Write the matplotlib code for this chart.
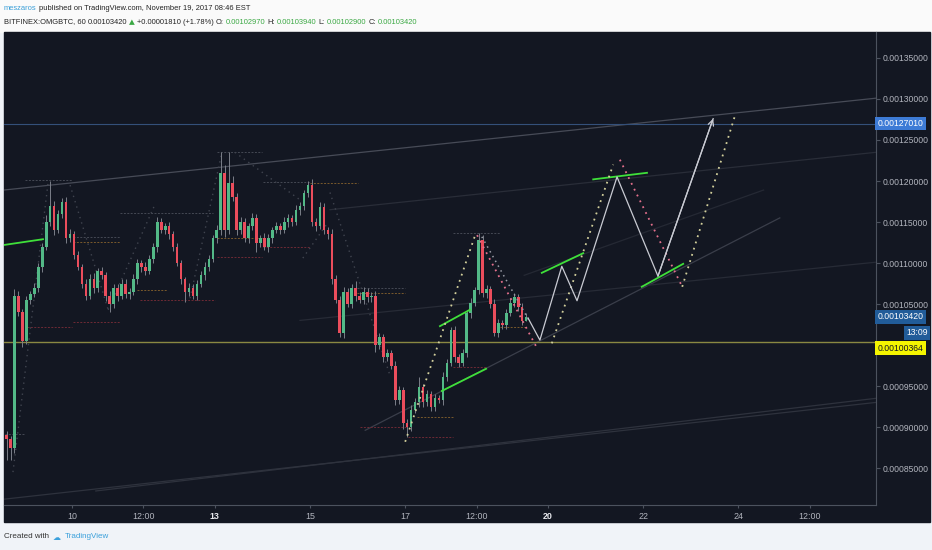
import matplotlib
matplotlib.use('Agg')
import matplotlib.pyplot as plt
from matplotlib.patches import Rectangle

W, H = 932, 550
BG = '#131722'
plt.rcParams['font.family'] = ['Liberation Sans', 'DejaVu Sans']

# 2-hour candles from Nov 8 14:00, prices in 1e-6 BTC
start_day = 8 + 14 / 24
bar_days = 1 / 12
first_open = 890
closes = [
    885, 874, 1060, 1040, 1005, 1055, 1062, 1070, 1095, 1120, 1150, 1170,
    1140, 1160, 1175, 1130, 1135, 1110, 1095, 1075, 1060, 1080, 1070, 1090,
    1085, 1060, 1050, 1070, 1060, 1075, 1062, 1065, 1080, 1100, 1095, 1090,
    1105, 1120, 1150, 1140, 1145, 1135, 1120, 1100, 1080, 1065, 1070, 1060,
    1075, 1085, 1095, 1105, 1130, 1140, 1210, 1140, 1198, 1180, 1140, 1150,
    1130, 1145, 1155, 1125, 1130, 1120, 1130, 1140, 1145, 1140, 1150, 1155,
    1150, 1165, 1170, 1185, 1195, 1150, 1145, 1168, 1140, 1135, 1080, 1055,
    1015, 1065, 1050, 1070, 1060, 1055, 1065, 1058, 1060, 1000, 1010, 985,
    990, 975, 933, 945, 905, 900, 921, 930, 949, 930, 940, 925,
    935, 933, 961, 978, 1018, 985, 978, 990, 1039, 1051, 1067, 1128,
    1063, 1068, 1050, 1015, 1027, 1025, 1039, 1051, 1058, 1046, 1029.7, 1034.2,
]
up_wick = [
    5, 4, 8, 6, 4, 5, 4, 6, 5, 4, 8, 30,
    6, 5, 4, 5, 6, 4, 5, 4, 5, 6, 8, 4,
    5, 4, 6, 5, 4, 6, 5, 4, 6, 5, 4, 6,
    5, 4, 6, 5, 4, 5, 4, 5, 4, 3, 6, 5,
    4, 5, 6, 5, 4, 6, 25, 10, 37, 8, 5, 6,
    5, 4, 6, 5, 4, 6, 5, 4, 5, 4, 6, 5,
    4, 6, 5, 4, 5, 8, 5, 6, 5, 4, 6, 5,
    5, 6, 5, 4, 8, 5, 6, 4, 5, 6, 5, 4,
    5, 4, 6, 5, 4, 5, 6, 5, 12, 4, 5, 4,
    5, 4, 6, 5, 4, 5, 4, 5, 4, 6, 4, 9,
    6, 5, 4, 6, 5, 4, 5, 6, 5, 4, 5, 5.2,
]
dn_wick = [
    25, 14, 6, 5, 7, 4, 5, 4, 5, 6, 4, 5,
    6, 4, 5, 6, 4, 5, 4, 5, 5, 4, 6, 5,
    4, 6, 10, 5, 6, 4, 5, 6, 4, 5, 6, 5,
    4, 5, 6, 4, 5, 6, 5, 4, 6, 13, 5, 4,
    5, 4, 6, 5, 4, 5, 6, 8, 5, 4, 6, 5,
    4, 6, 5, 12, 5, 4, 6, 5, 4, 5, 4, 6,
    5, 4, 6, 5, 4, 5, 6, 4, 5, 6, 5, 4,
    5, 6, 4, 5, 6, 4, 5, 6, 5, 8, 5, 6,
    5, 4, 6, 5, 8, 12, 5, 4, 6, 5, 4, 6,
    5, 4, 6, 5, 4, 6, 5, 4, 5, 6, 4, 5,
    4, 6, 5, 4, 5, 6, 5, 4, 5, 4, 5, 0.7,
]

# drawn forecast path (solid white) and dotted paths: (day, price)
proj_days = [19.58, 19.83, 20.29, 20.61, 21.45, 22.31, 23.47]
proj_prices = [1033, 1006, 1096, 1054, 1205, 1084, 1276]
dotted_up = [((17.0, 18.47), (882, 1134)), ((20.08, 21.37), (1002, 1220)),
             ((22.82, 23.93), (1071, 1280))]
dotted_down = [((18.51, 19.79), (1134, 994)), ((21.51, 22.82), (1226, 1071))]
dotted_gray = [((18.61, 19.62), (1132, 1028))]

green_lines = [((8.571, 9.39), (1122, 1129)), ((17.73, 18.36), (1023, 1043)),
               ((17.77, 18.70), (944, 971)), ((19.87, 20.74), (1088, 1112)),
               ((20.95, 22.08), (1202, 1210)), ((21.97, 22.84), (1071, 1099))]

trend_lines = [((8.571, 26.891), (1189, 1301), '#474b57'),
               ((8.571, 26.891), (812, 930), '#2e323d'),
               ((10.5, 26.891), (822, 935), '#2e323d'),
               ((16.16, 24.87), (896, 1155), '#3a3e4a'),
               ((14.79, 26.891), (1030, 1101), '#272b36'),
               ((15.42, 26.891), (1165, 1235), '#292d38'),
               ((19.5, 24.53), (1085, 1189), '#252934')]

zigzag = [((8.76, 9.50), (845, 1199)), ((9.96, 10.76), (1195, 1043)),
          ((10.76, 11.74), (1043, 1171)), ((12.48, 13.15), (1057, 1235)),
          ((13.42, 14.79), (1235, 1177)), ((14.85, 15.36), (1106, 1148)),
          ((15.42, 16.68), (1186, 963))]

# pivot level segments: (start day, end day, price, colour)
levels = [(9.05, 10.0, 1022, '#6e2a35'), (10.02, 11.01, 1028, '#6e2a35'),
          (11.43, 13.0, 1055, '#6e2a35'), (13.05, 13.99, 1107, '#6e2a35'),
          (14.01, 15.0, 1120, '#6e2a35'), (15.0, 16.01, 1198, '#7a5a2c'),
          (13.05, 13.99, 1130, '#7a5a2c'), (11.37, 12.0, 1067, '#7a5a2c'),
          (9.01, 10.0, 1201, '#454954'), (13.05, 13.99, 1235, '#454954'),
          (14.01, 15.0, 1199, '#454954'), (11.01, 12.96, 1161, '#454954'),
          (10.02, 11.01, 1132, '#454954'), (10.02, 11.01, 1126, '#7a5a2c'),
          (16.05, 17.04, 900, '#6e2a35'), (17.06, 18.0, 888, '#6e2a35'),
          (17.25, 18.0, 912, '#7a5a2c'), (18.0, 18.99, 1137, '#454954'),
          (18.0, 18.72, 973, '#6e2a35'), (18.99, 19.56, 1022, '#7a5a2c'),
          (15.99, 17.0, 1070, '#454954'), (15.99, 17.0, 1063, '#7a5a2c'),
          (8.59, 9.0, 891, '#454954')]

last_price = 1034.2
alert_price = 1003.64
target_price = 1270.10
price_ticks = [850, 900, 950, 1050, 1100, 1150, 1200, 1250, 1300, 1350]
time_ticks = [10, 11.5, 13, 15, 17, 18.5, 20, 22, 24, 25.5]
time_labels = ['10', '12:00', '13', '15', '17', '12:00', '20', '22', '24', '12:00']
week_starts = ['13', '20']

header_1 = [('meszaros', '#3a9fd8'),
            ('published on TradingView.com, November 19, 2017 08:46 EST', '#222222')]
header_2 = [('BITFINEX:OMGBTC, 60', '#222222'), ('0.00103420', '#222222'),
            ('▲', '#3aa843'), ('+0.00001810 (+1.78%)', '#222222'),
            ('O:', '#222222'), ('0.00102970', '#3aa843'),
            ('H:', '#222222'), ('0.00103940', '#3aa843'),
            ('L:', '#222222'), ('0.00102900', '#3aa843'),
            ('C:', '#222222'), ('0.00103420', '#3aa843')]

fig = plt.figure(figsize=(W / 100, H / 100), dpi=100, facecolor='#f0f3f8')
fig.patches.append(Rectangle((0, 1 - 32 / H), 1, 32 / H, transform=fig.transFigure,
                             color='#fafafa', zorder=-2))
fig.patches.append(Rectangle((4 / W, 1 - 522 / H), 926 / W, 490 / H,
                             transform=fig.transFigure, color=BG, zorder=-1))

ax = fig.add_axes([4 / W, 1 - 505 / H, 872 / W, 473 / H])
ax.set_zorder(2)
ax.set_facecolor(BG)
ax.set_xlim(8.5714, 26.891)
ax.set_ylim(804.9, 1381.7)

# trend lines, levels, zigzag
for xs, ys, c in trend_lines:
    ax.plot(xs, ys, color=c, lw=0.9, zorder=1)
for x0, x1, p, c in levels:
    ax.plot([x0, x1], [p, p], color=c, lw=0.7, ls=(0, (2, 1.5)), zorder=1)
for xs, ys in zigzag:
    ax.plot(xs, ys, color='#40444f', lw=1.0, ls=(0, (1, 3)), zorder=1)

ax.axhline(alert_price, color='#8a8842', lw=1.0, zorder=1)
ax.axhline(target_price, color='#34507a', lw=0.8, zorder=1)

# candles
opens = [first_open] + closes[:-1]
for i, (o, c) in enumerate(zip(opens, closes)):
    x = start_day + (i + 0.5) * bar_days
    col = '#53b987' if c >= o else '#eb4d5c'
    hi = max(o, c) + up_wick[i]
    lo = min(o, c) - dn_wick[i]
    ax.vlines(x, lo, hi, color='#7b7f89', lw=0.7, zorder=2)
    ax.bar(x, max(abs(c - o), 1.0), bottom=min(o, c), width=bar_days * 0.65,
           color=col, lw=0, zorder=3)

# green annotation lines
for xs, ys in green_lines:
    ax.plot(xs, ys, color='#3fe03a', lw=1.3, zorder=4)

# dotted forecasts
for xs, ys in dotted_up:
    ax.plot(xs, ys, color='#d3d09c', lw=1.3, ls=(0, (1, 2.6)), zorder=4)
for xs, ys in dotted_down:
    ax.plot(xs, ys, color='#e4708c', lw=1.3, ls=(0, (1, 2.6)), zorder=4)
for xs, ys in dotted_gray:
    ax.plot(xs, ys, color='#9a9ca6', lw=1.1, ls=(0, (1, 2.6)), zorder=4)

# solid forecast path
ax.plot(proj_days, proj_prices, color='#c9cbd3', lw=0.9, zorder=5)
ax.annotate('', xy=(proj_days[-1], proj_prices[-1]),
            xytext=(proj_days[-2], proj_prices[-2]),
            arrowprops=dict(arrowstyle='->', color='#c9cbd3', lw=0.9,
                            shrinkA=0, shrinkB=0), zorder=5)

# axes styling
for s in ['top', 'left']:
    ax.spines[s].set_visible(False)
for s in ['right', 'bottom']:
    ax.spines[s].set_color('#4c525e')
    ax.spines[s].set_linewidth(0.8)

ax.yaxis.tick_right()
ax.set_yticks(price_ticks)
ax.set_yticklabels([f'{p / 1e6:.8f}' for p in price_ticks])
ax.tick_params(axis='y', colors='#4c525e', labelcolor='#b2b5be', labelsize=6.2,
               length=3, pad=2)
ax.set_xticks(time_ticks)
ax.set_xticklabels(time_labels)
ax.tick_params(axis='x', colors='#4c525e', labelcolor='#b2b5be', labelsize=6.4,
               length=2.5, pad=2.5)
for t in ax.get_xticklabels():
    if t.get_text() in week_starts:
        t.set_color('#e8e9ee')
        t.set_fontweight('bold')

ytr = ax.get_yaxis_transform()
ax.text(1.002, target_price, f'{target_price / 1e6:.8f}', transform=ytr,
        ha='left', va='center', fontsize=6.2, color='white', clip_on=False,
        bbox=dict(boxstyle='square,pad=0.28', fc='#3d7bd6', ec='none'))
ax.text(1.002, last_price, f'{last_price / 1e6:.8f}', transform=ytr,
        ha='left', va='center', fontsize=6.2, color='white', clip_on=False,
        bbox=dict(boxstyle='square,pad=0.28', fc='#215c99', ec='none'))
ax.annotate('13:09', xy=(1.0596, last_price), xycoords=ytr, xytext=(0, -11.5),
            textcoords='offset points', ha='right', va='center', fontsize=6.2,
            color='white', annotation_clip=False,
            bbox=dict(boxstyle='square,pad=0.28', fc='#215c99', ec='none'))
ax.annotate(f'{alert_price / 1e6:.8f}', xy=(1.002, alert_price), xycoords=ytr,
            xytext=(0, -4.5), textcoords='offset points', ha='left', va='center',
            fontsize=6.2, color='#131722', annotation_clip=False,
            bbox=dict(boxstyle='square,pad=0.28', fc='#f5f500', ec='none'))

# header and footer text, laid out piece by piece
renderer = fig.canvas.get_renderer()


def text_run(x, y, pieces, size=5.4, gap=2):
    for s, color in pieces:
        fam = 'DejaVu Sans' if s in ('▲', '☁') else 'Liberation Sans'
        t = fig.text(x / W, 1 - y / H, s, color=color, fontsize=size,
                     va='center', ha='left', family=fam)
        x += t.get_window_extent(renderer).width + gap


text_run(4, 8, header_1)
text_run(4, 22, header_2)
text_run(4, 537, [('Created with', '#333333'), ('☁', '#3ba0dc'),
                  ('TradingView', '#3aa0db')], size=5.8, gap=4)

fig.savefig('out.png', dpi=100, facecolor=fig.get_facecolor())
